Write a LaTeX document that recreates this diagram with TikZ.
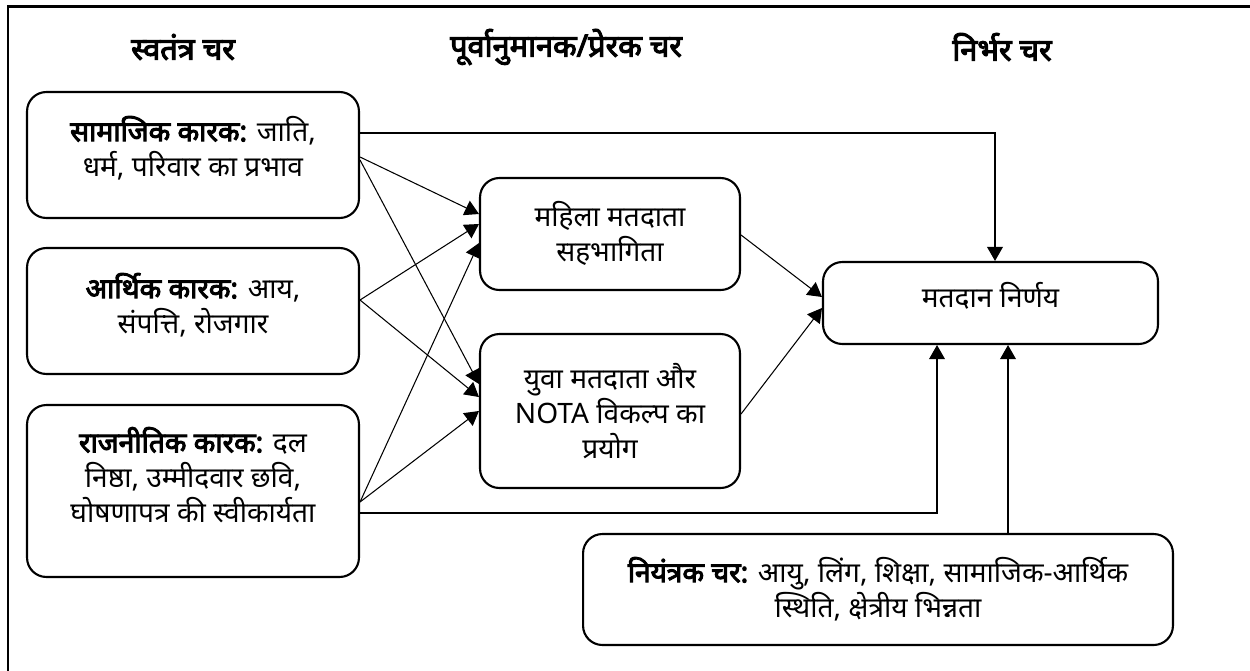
\documentclass[tikz,border=0pt]{standalone}
\usepackage{fontspec}
\setmainfont{Noto Sans}[Script=Devanagari, BoldFont={Noto Sans}, BoldFeatures={FakeBold=3.5}]
\usetikzlibrary{arrows.meta}
\begin{document}
\begin{tikzpicture}[x=0.02cm,y=-0.02cm,
  box/.style={draw, line width=1.2pt, rounded corners=11pt, inner sep=0pt},
  txt/.style={align=center, font=\fontsize{16}{20}\selectfont},
  hd/.style={font=\fontsize{17.5}{20}\selectfont\bfseries},
  arr/.style={line width=0.6pt, -{Triangle[length=8pt,width=9pt]}},
  ln/.style={line width=0.6pt}]
\useasboundingbox (0,0) rectangle (1250,670);
\draw[line width=1.7pt] (8,680) -- (8,6.5) -- (1260,6.5);
% headings
\node[hd] (h1) at (183,47) {स्वतंत्र चर};
\node[hd] (h2) at (566,47) {पूर्वानुमानक/प्रेरक चर};
\node[hd] (h3) at (1002,47) {निर्भर चर};
% boxes
\node[box, minimum width=6.64cm, minimum height=2.52cm] (S) at (193,155) {};
\node[box, minimum width=6.64cm, minimum height=2.52cm] (A) at (193,311) {};
\node[box, minimum width=6.64cm, minimum height=3.44cm] (R) at (193,491) {};
\node[box, minimum width=5.2cm, minimum height=2.24cm] (M) at (610,234) {};
\node[box, minimum width=5.2cm, minimum height=3.08cm] (Y) at (610,411) {};
\node[box, minimum width=6.7cm, minimum height=1.64cm] (D) at (990.5,303) {};
\node[box, minimum width=11.8cm, minimum height=2.22cm] (C) at (878,589.5) {};
% texts
\node[txt] (St) at (193,148) {\textbf{सामाजिक कारक:} जाति,\\धर्म, परिवार का प्रभाव};
\node[txt] (At) at (193,305) {\textbf{आर्थिक कारक:} आय,\\संपत्ति, रोजगार};
\node[txt] (Rt) at (193,475) {\textbf{राजनीतिक कारक:} दल\\निष्ठा, उम्मीदवार छवि,\\घोषणापत्र की स्वीकार्यता};
\node[txt] (Mt) at (610,233) {महिला मतदाता\\सहभागिता};
\node[txt] (Yt) at (610,411) {युवा मतदाता और\\NOTA विकल्प का\\प्रयोग};
\node[txt] (Dt) at (990.5,296) {मतदान निर्णय};
\node[txt] (Ct) at (878,589) {\textbf{नियंत्रक चर:} आयु, लिंग, शिक्षा, सामाजिक-आर्थिक\\स्थिति, क्षेत्रीय भिन्नता};
% connectors
\draw[arr] (S.east |- 0,133) -| (D.north -| 995,0);
\draw[arr] (S.east |- 0,157) -- (M.west |- 0,214);
\draw[arr] (S.east |- 0,160) -- (Y.west |- 0,384);
\draw[arr] (A.east |- 0,300) -- (M.west |- 0,224);
\draw[arr] (A.east |- 0,300) -- (Y.west |- 0,397);
\draw[arr] (R.east |- 0,502) -- (M.west |- 0,243);
\draw[arr] (R.east |- 0,502) -- (Y.west |- 0,411);
\draw[arr] (R.east |- 0,513) -| (D.south -| 937,0);
\draw[arr] (M.east |- 0,235) -- (D.west |- 0,297);
\draw[arr] (Y.east |- 0,414) -- (D.west |- 0,308);
\draw[arr] (C.north -| 1008,0) -- (D.south -| 1008,0);
\end{tikzpicture}
\end{document}
